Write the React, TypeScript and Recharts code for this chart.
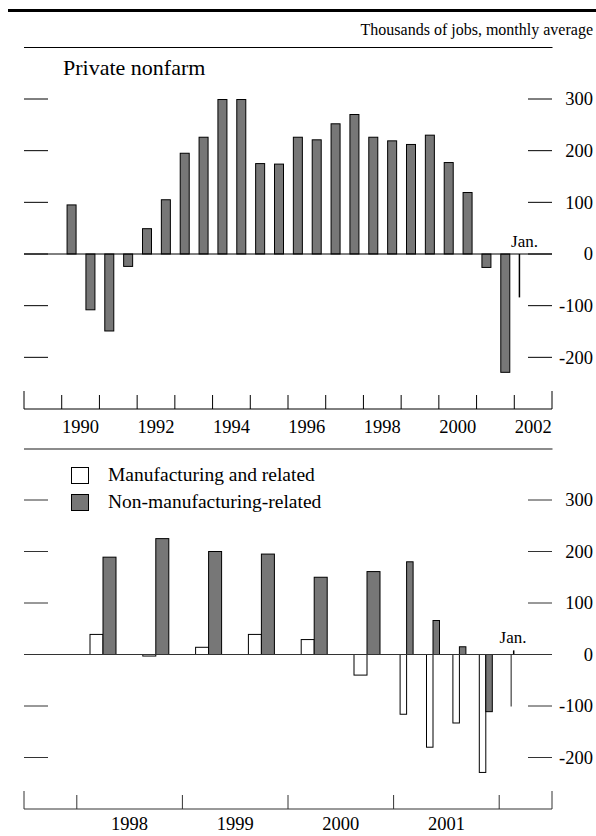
import React from "react";
import { Bar, BarChart, Legend, ReferenceLine, XAxis, YAxis } from "recharts";

const SERIF = '"Liberation Serif", "Times New Roman", serif';
const DARK = "#777777";

// Private nonfarm payroll change, semiannual averages, then January 2002
const PRIVATE_PERIODS = [
  "1990 H1", "1990 H2", "1991 H1", "1991 H2", "1992 H1", "1992 H2",
  "1993 H1", "1993 H2", "1994 H1", "1994 H2", "1995 H1", "1995 H2",
  "1996 H1", "1996 H2", "1997 H1", "1997 H2", "1998 H1", "1998 H2",
  "1999 H1", "1999 H2", "2000 H1", "2000 H2", "2001 H1", "2001 H2",
  "2002 Jan",
];
const PRIVATE_CHANGE = [
  95, -108, -149, -24, 49, 105, 195, 226, 299, 299, 175, 174,
  226, 221, 252, 270, 226, 219, 212, 230, 177, 119, -26, -229,
  -84,
];

// Manufacturing-related vs. the rest
const SPLIT_PERIODS = [
  "1998 H1", "1998 H2", "1999 H1", "1999 H2", "2000 H1", "2000 H2",
  "2001 Q1", "2001 Q2", "2001 Q3", "2001 Q4", "2002 Jan",
];
const MANUF_CHANGE = [39, -3, 14, 39, 29, -40, -116, -180, -133, -229, -101];
const NONMANUF_CHANGE = [189, 225, 200, 195, 150, 161, 180, 66, 15, -111, 8];

const VALUE_TICKS = [-200, -100, 0, 100, 200, 300];
const TOP_YEAR_TICKS = [1989, 1990, 1991, 1992, 1993, 1994, 1995, 1996, 1997, 1998, 1999, 2000, 2001, 2002, 2003];
const TOP_YEAR_LABELS = [1990, 1992, 1994, 1996, 1998, 2000, 2002];
const BOTTOM_YEAR_TICKS = [1997.5, 1998, 1999, 2000, 2001, 2002, 2002.5];
const BOTTOM_YEAR_LABELS = [1998, 1999, 2000, 2001];

// where inside the year each period's bar sits
const PERIOD_OFFSET: Record<string, number> = {
  H1: 0.25, H2: 0.75, Q1: 0.125, Q2: 0.375, Q3: 0.625, Q4: 0.875, Jan: 0.125,
};

function periodInfo(p: string) {
  const [yr, part] = p.split(" ");
  const kind = part === "Jan" ? "month" : part.startsWith("Q") ? "quarter" : "half";
  return { t: Number(yr) + PERIOD_OFFSET[part], kind };
}

const topData = PRIVATE_PERIODS.map((p, i) => ({ ...periodInfo(p), period: p, value: PRIVATE_CHANGE[i] }));
const bottomData = SPLIT_PERIODS.map((p, i) => ({
  ...periodInfo(p),
  period: p,
  manuf: MANUF_CHANGE[i],
  nonmanuf: NONMANUF_CHANGE[i],
}));

function TopBar(props: any) {
  const { x, y, width, height, payload } = props;
  const cx = x + width / 2;
  if (payload.kind === "month") {
    return <line x1={cx} x2={cx} y1={y} y2={y + height} stroke="#000" strokeWidth={1.5} />;
  }
  const w = 9;
  return (
    <rect x={cx - w / 2} y={Math.min(y, y + height)} width={w} height={Math.abs(height)}
      fill={DARK} stroke="#000" strokeWidth={1} />
  );
}

// paired bars: manufacturing sits left of the period centre, the rest right of it
function pairedBar(side: "left" | "right") {
  return (props: any) => {
    const { x, y, width, height, payload } = props;
    const cx = side === "left" ? x + width : x;
    if (payload.kind === "month") {
      const lx = side === "left" ? cx - 1 : cx + 1.5;
      return (
        <line x1={lx} x2={lx} y1={y} y2={y + height}
          stroke={side === "left" ? "#666" : "#000"} strokeWidth={1.5} />
      );
    }
    const w = payload.kind === "quarter" ? 6.5 : 13;
    return (
      <rect x={side === "left" ? cx - w : cx} y={Math.min(y, y + height)} width={w}
        height={Math.abs(height)} fill={side === "left" ? "#fff" : DARK} stroke="#000" strokeWidth={1} />
    );
  };
}

function valueTick(side: "left" | "right", color: string) {
  return (props: any) => {
    const { x, y, payload } = props;
    if (side === "left") {
      return <line x1={x} x2={x + 24} y1={y} y2={y} stroke={color} />;
    }
    return (
      <g>
        <line x1={x - 24} x2={x} y1={y} y2={y} stroke={color} />
        <text x={x + 41} y={y} dy="0.34em" textAnchor="end" fontFamily={SERIF} fontSize={18.5} fill="#000">
          {payload.value}
        </text>
      </g>
    );
  };
}

function yearTick(lo: number, hi: number, color: string) {
  return (props: any) => {
    const { x, y, payload } = props;
    const edge = payload.value === lo || payload.value === hi;
    return <line x1={x} x2={x} y1={y} y2={y - (edge ? 18 : 14)} stroke={color} />;
  };
}

function yearLabel(dy: number) {
  return (props: any) => {
    const { x, y, payload } = props;
    return (
      <text x={x} y={y + dy} textAnchor="middle" fontFamily={SERIF} fontSize={18.5} fill="#000">
        {Math.floor(payload.value)}
      </text>
    );
  };
}

function LegendBox({ payload }: any) {
  return (
    <div style={{ fontFamily: SERIF, fontSize: 19.5, color: "#000" }}>
      {(payload || []).map((e: any) => (
        <div key={e.value} style={{ display: "flex", alignItems: "center", height: 27 }}>
          <span style={{ width: 16, height: 15, background: e.color, border: "1px solid #000", marginRight: 19 }} />
          <span>{e.value}</span>
        </div>
      ))}
    </div>
  );
}

export default function App() {
  const grey = "#333";
  return (
    <div style={{ position: "absolute", left: 0, top: 0, width: 596, height: 836, background: "#fff" }}>
      <div style={{ position: "absolute", left: 0, top: 0 }}>
        <BarChart width={596} height={440} data={topData} margin={{ top: 99, right: 43, bottom: 29, left: 23 }}>
          <XAxis xAxisId="grid" type="number" dataKey="t" domain={[1989, 2003]} ticks={TOP_YEAR_TICKS}
            allowDataOverflow interval={0} height={1} tickSize={0} tickMargin={0} tickLine={false}
            axisLine={{ stroke: "#000" }} tick={yearTick(1989, 2003, "#000")} />
          <XAxis xAxisId="years" type="number" dataKey="t" domain={[1989, 2003]} allowDataOverflow
            ticks={TOP_YEAR_LABELS.map((y) => y + 0.5)} interval={0} height={1} tickSize={0} tickMargin={0}
            tickLine={false} axisLine={false} tick={yearLabel(23)} />
          <YAxis yAxisId="l" domain={[-300, 300]} allowDataOverflow ticks={VALUE_TICKS} interval={0} width={1}
            tickSize={0} tickMargin={0} axisLine={false} tickLine={false} tick={valueTick("left", "#000")} />
          <YAxis yAxisId="r" orientation="right" domain={[-300, 300]} allowDataOverflow ticks={VALUE_TICKS}
            interval={0} width={1} tickSize={0} tickMargin={0} axisLine={false} tickLine={false}
            tick={valueTick("right", "#000")} />
          <ReferenceLine xAxisId="grid" yAxisId="r" y={0} stroke="#000" />
          <Bar xAxisId="grid" yAxisId="r" dataKey="value" barSize={9} shape={TopBar} isAnimationActive={false} />
        </BarChart>
      </div>

      <div style={{ position: "absolute", left: 0, top: 440 }}>
        <BarChart width={596} height={396} data={bottomData} barGap={0}
          margin={{ top: 60, right: 43, bottom: 25, left: 23 }}>
          <XAxis xAxisId="grid" type="number" dataKey="t" domain={[1997.5, 2002.5]} ticks={BOTTOM_YEAR_TICKS}
            allowDataOverflow interval={0} height={1} tickSize={0} tickMargin={0} tickLine={false}
            axisLine={{ stroke: grey }} tick={yearTick(1997.5, 2002.5, grey)} />
          <XAxis xAxisId="years" type="number" dataKey="t" domain={[1997.5, 2002.5]} allowDataOverflow
            ticks={BOTTOM_YEAR_LABELS.map((y) => y + 0.5)} interval={0} height={1} tickSize={0} tickMargin={0}
            tickLine={false} axisLine={false} tick={yearLabel(20)} />
          <YAxis yAxisId="l" domain={[-300, 300]} allowDataOverflow ticks={VALUE_TICKS} interval={0} width={1}
            tickSize={0} tickMargin={0} axisLine={false} tickLine={false} tick={valueTick("left", grey)} />
          <YAxis yAxisId="r" orientation="right" domain={[-300, 300]} allowDataOverflow ticks={VALUE_TICKS}
            interval={0} width={1} tickSize={0} tickMargin={0} axisLine={false} tickLine={false}
            tick={valueTick("right", grey)} />
          <ReferenceLine xAxisId="grid" yAxisId="r" y={0} stroke={grey} />
          <Bar xAxisId="grid" yAxisId="r" dataKey="manuf" name="Manufacturing and related" fill="#fff"
            barSize={13} shape={pairedBar("left")} isAnimationActive={false} />
          <Bar xAxisId="grid" yAxisId="r" dataKey="nonmanuf" name="Non-manufacturing-related" fill={DARK}
            barSize={13} shape={pairedBar("right")} isAnimationActive={false} />
          <Legend layout="vertical" align="center" verticalAlign="middle" content={LegendBox}
            wrapperStyle={{ left: 71, top: 21.5, width: 320, height: 54 }} />
        </BarChart>
      </div>

      <svg width={596} height={836} style={{ position: "absolute", left: 0, top: 0, pointerEvents: "none" }}>
        <line x1={8} x2={596} y1={10.5} y2={10.5} stroke="#000" strokeWidth={3} />
        <text x={593} y={35} textAnchor="end" fontFamily={SERIF} fontSize={16}>
          Thousands of jobs, monthly average
        </text>
        <line x1={24} x2={552.5} y1={47.5} y2={47.5} stroke="#000" strokeWidth={1} />
        <text x={63} y={75} fontFamily={SERIF} fontSize={22}>Private nonfarm</text>
        <text x={524.5} y={247} textAnchor="middle" fontFamily={SERIF} fontSize={17}>Jan.</text>
        <line x1={24} x2={552.5} y1={449} y2={449} stroke="#666" strokeWidth={1.5} />
        <text x={513} y={643} textAnchor="middle" fontFamily={SERIF} fontSize={17}>Jan.</text>
      </svg>
    </div>
  );
}
